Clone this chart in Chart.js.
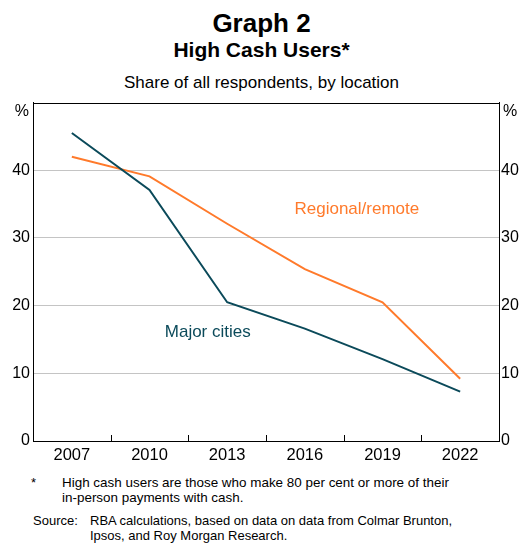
<!DOCTYPE html>
<html>
<head>
<meta charset="utf-8">
<script src="https://cdn.jsdelivr.net/npm/chart.js@4"></script>
<style>
  body { margin: 0; width: 523px; height: 545px; background: #fff; font-family: "Liberation Sans", Arial, sans-serif; color: #000; position: relative; overflow: hidden; }
  .t { position: absolute; left: 0; width: 523px; text-align: center; }
  #chartBox { position: absolute; left: 0; top: 90px; width: 523px; height: 380px; }
  .note { position: absolute; font-size: 13px; line-height: 15px; }
</style>
</head>
<body>
<div class="t" style="top:8px;font-size:26px;font-weight:bold;">Graph 2</div>
<div class="t" style="top:38px;font-size:21px;font-weight:bold;">High Cash Users*</div>
<div class="t" style="top:73px;font-size:17px;">Share of all respondents, by location</div>
<div id="chartBox"><canvas id="myChart"></canvas></div>
<div class="note" style="left:31px;top:475px;">*</div>
<div class="note" style="left:62px;top:475px;font-size:13.45px;">High cash users are those who make 80 per cent or more of their<br>in-person payments with cash.</div>
<div class="note" style="left:33px;top:513px;">Source:</div>
<div class="note" style="left:90px;top:513px;">RBA calculations, based on data on data from Colmar Brunton,<br>Ipsos, and Roy Morgan Research.</div>
<script>
// survey years
const years = ["2007", "2010", "2013", "2016", "2019", "2022"]
const majorCities = [45.5, 37.1, 20.5, 16.6, 12.1, 7.3]
const regionalRemote = [42.0, 39.1, 32.1, 25.4, 20.5, 9.2]
const yTicks = [0, 10, 20, 30, 40, 50]

const teal = "#0B4A5A"
const orange = "#FF7A2B"

// series labels, placed in data units (category index, value)
const seriesLabels = [
    { text: "Regional/remote", x: 3.67, y: 34.2, color: orange },
    { text: "Major cities", x: 1.75, y: 16.1, color: teal }
]

const extras = {
    id: "extras",
    afterDraw(chart){
        const ctx = chart.ctx
        const xs = chart.scales.x
        const ys = chart.scales.y
        const area = chart.chartArea
        ctx.save()
        ctx.strokeStyle = "#000"
        ctx.lineWidth = 1
        // top frame line
        ctx.beginPath()
        ctx.moveTo(area.left, Math.round(area.top) + 0.5)
        ctx.lineTo(area.right, Math.round(area.top) + 0.5)
        ctx.stroke()
        // inward x ticks at category boundaries
        for (let i = 0; i < years.length - 1; i++){
            const px = Math.round((xs.getPixelForValue(i) + xs.getPixelForValue(i + 1)) / 2) + 0.5
            ctx.beginPath()
            ctx.moveTo(px, area.bottom)
            ctx.lineTo(px, area.bottom - 6)
            ctx.stroke()
        }
        // unit labels
        ctx.font = "16px 'Liberation Sans', Arial, sans-serif"
        ctx.fillStyle = "#000"
        ctx.textBaseline = "middle"
        const py = ys.getPixelForValue(50) + 9
        ctx.textAlign = "right"
        ctx.fillText("%", area.left - 4, py)
        ctx.textAlign = "left"
        ctx.fillText("%", area.right + 4, py)
        // series labels
        ctx.font = "17px 'Liberation Sans', Arial, sans-serif"
        ctx.textAlign = "center"
        for (const l of seriesLabels){
            ctx.fillStyle = l.color
            ctx.fillText(l.text, xs.getPixelForValue(l.x), ys.getPixelForValue(l.y))
        }
        ctx.restore()
    }
}

const yAxis = (pos, width) => ({
    type: "linear",
    position: pos,
    min: 0,
    max: 50,
    afterBuildTicks: s => { s.ticks = yTicks.map(v => ({ value: v })) },
    afterFit: s => { s.width = width },
    border: { display: true, color: "#000", width: 1 },
    grid: {
        display: pos === "left",
        drawTicks: false,
        color: c => (c.tick.value === 0 || c.tick.value === 50) ? "rgba(0,0,0,0)" : "#C4C4C4"
    },
    ticks: {
        color: "#000",
        font: { family: "'Liberation Sans', Arial, sans-serif", size: 16 },
        padding: pos === "left" ? 3 : 2,
        callback: v => v === 50 ? "" : v
    }
})

new Chart("myChart", {
    type: "line",
    data: {
        labels: years,
        datasets: [
            { label: "Major cities", data: majorCities, borderColor: teal, borderWidth: 2, pointRadius: 0, tension: 0 },
            { label: "Regional/remote", data: regionalRemote, borderColor: orange, borderWidth: 2, pointRadius: 0, tension: 0 }
        ]
    },
    options: {
        responsive: true,
        maintainAspectRatio: false,
        animation: false,
        layout: { padding: { top: 9, left: 0, right: 0, bottom: 0 } },
        plugins: { legend: { display: false }, tooltip: { enabled: false } },
        scales: {
            x: {
                type: "category",
                offset: true,
                afterFit: s => { s.height = 29 },
                border: { display: true, color: "#000", width: 1 },
                grid: { display: false, drawTicks: false },
                ticks: {
                    color: "#000",
                    maxRotation: 0,
                    font: { family: "'Liberation Sans', Arial, sans-serif", size: 16.5 },
                    padding: 5
                }
            },
            y: yAxis("left", 33),
            y2: yAxis("right", 24)
        }
    },
    plugins: [extras]
})
</script>
</body>
</html>
